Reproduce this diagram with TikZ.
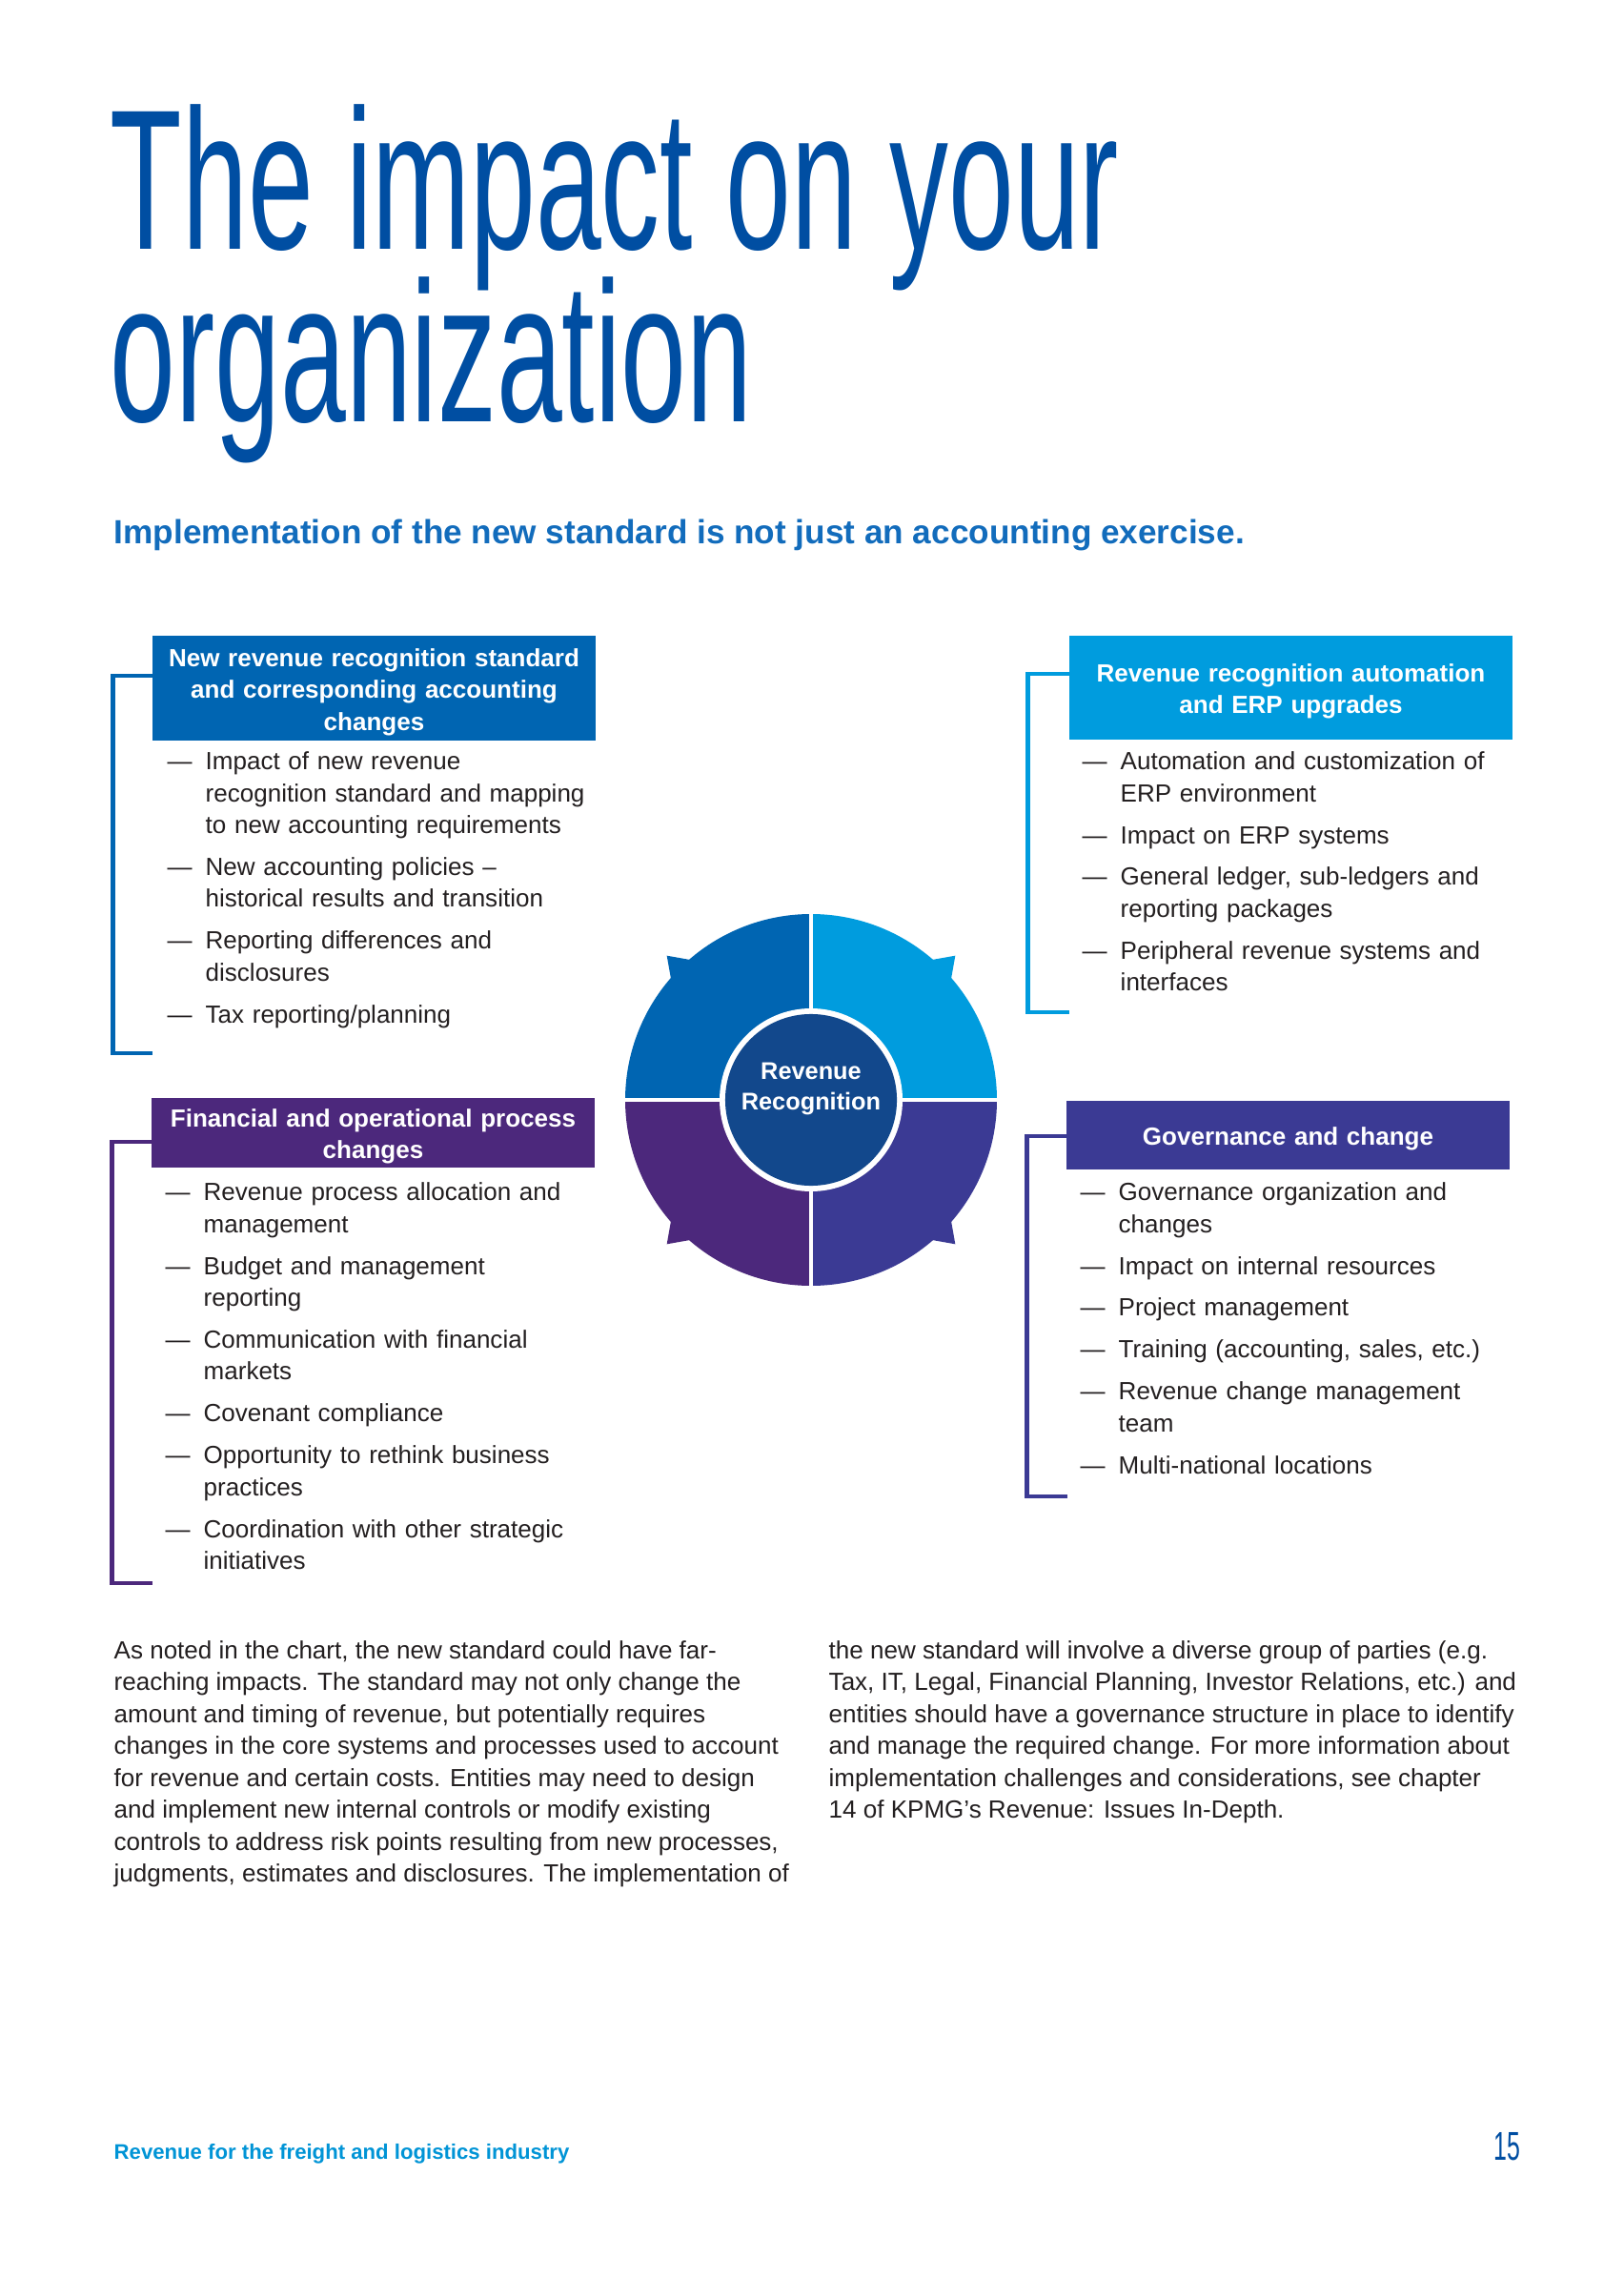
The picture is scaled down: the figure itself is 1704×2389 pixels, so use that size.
\documentclass[tikz,border=0pt]{standalone}
\usepackage{fontspec}
\setmainfont{Liberation Sans}
\newfontfamily\titlefont[FakeStretch=0.59]{Liberation Sans}

\definecolor{kblue}{RGB}{0,101,178}
\definecolor{klight}{RGB}{0,156,222}
\definecolor{kindigo}{RGB}{59,58,148}
\definecolor{kpurple}{RGB}{76,40,124}
\definecolor{kcore}{RGB}{18,72,140}
\definecolor{ktitle}{RGB}{0,78,162}
\definecolor{ksub}{RGB}{18,108,188}
\definecolor{kfoot}{RGB}{0,148,214}
\definecolor{ktext}{RGB}{35,31,32}

\tikzset{
	head/.style={fill=#1, text=white, align=center, inner sep=0pt, minimum width=4.64cm, text width=4.4cm, execute at begin node={\rule{0pt}{7.8pt}}, font=\bfseries\fontsize{7.4}{9.4}\selectfont},
	blist/.style={anchor=north west, inner sep=0pt, text width=5cm, align=left, text=ktext, font=\fontsize{7.4}{9.5}\selectfont\setlength{\parskip}{3pt}},
	brk/.style={draw=#1, line width=1.4pt},
	para/.style={anchor=north west, inner sep=0pt, align=left, text=ktext, font=\fontsize{7.4}{9.5}\selectfont},
}
\newcommand{\itm}{\par\noindent\llap{—\hspace{4pt}}}

\begin{document}
\begin{tikzpicture}[x=0.01cm,y=-0.01cm]
	\fill[white] (0,0) rectangle (1704,2389);
	\useasboundingbox (0,0) rectangle (1704,2389);
%%% Titel
	\node[anchor=base west, inner sep=0pt, text=ktitle, font=\titlefont\fontsize{59.6}{51.5}\selectfont] (t1) at (115,262) {The impact on your};
	\node[anchor=base west, inner sep=0pt, text=ktitle, font=\titlefont\fontsize{59.6}{51.5}\selectfont] (t2) at (115,443) {organization};
	\node[anchor=base west, inner sep=0pt, text=ksub, font=\bfseries\fontsize{10}{12}\selectfont] (sub) at (119,571) {Implementation of the new standard is not just an accounting exercise.};
%%% Kopfkaesten
	\node[head=kblue, minimum height=1.10cm] (h1) at (392.5,722) {New revenue recognition standard\\and corresponding accounting\\changes};
	\node[head=klight, minimum height=1.09cm] (h2) at (1354.5,721.5) {Revenue recognition automation\\and ERP upgrades};
	\node[head=kpurple, minimum height=0.73cm] (h3) at (391.5,1188.5) {Financial and operational process\\changes};
	\node[head=kindigo, minimum height=0.72cm] (h4) at (1351.5,1191) {Governance and change};
%%% Listen
	\node[blist] (l1) at (215,763) {\itm Impact of new revenue\\recognition standard and mapping\\to new accounting requirements
		\itm New accounting policies –\\historical results and transition
		\itm Reporting differences and\\disclosures
		\itm Tax reporting/planning};
	\node[blist] (l2) at (1175,763) {\itm Automation and customization of\\ERP environment
		\itm Impact on ERP systems
		\itm General ledger, sub-ledgers and\\reporting packages
		\itm Peripheral revenue systems and\\interfaces};
	\node[blist] (l3) at (213,1215) {\itm Revenue process allocation and\\management
		\itm Budget and management\\reporting
		\itm Communication with financial\\markets
		\itm Covenant compliance
		\itm Opportunity to rethink business\\practices
		\itm Coordination with other strategic\\initiatives};
	\node[blist] (l4) at (1173,1215) {\itm Governance organization and\\changes
		\itm Impact on internal resources
		\itm Project management
		\itm Training (accounting, sales, etc.)
		\itm Revenue change management\\team
		\itm Multi-national locations};
%%% Klammern
	\coordinate (e1) at (160,1105);
	\coordinate (e2) at (1122,1062);
	\coordinate (e3) at (160,1661);
	\coordinate (e4) at (1120,1570);
	\draw[brk=kblue] (h1.west |- 0,709) -- ++(-41,0) |- (e1);
	\draw[brk=klight] (h2.west |- 0,707) -- ++(-43,0) |- (e2);
	\draw[brk=kpurple] (h3.west |- 0,1198) -- ++(-41,0) |- (e3);
	\draw[brk=kindigo] (h4.west |- 0,1192) -- ++(-41,0) |- (e4);
%%% Kreis in der Mitte
	\begin{scope}[shift={(851,1154)}, yscale=-1]
	\foreach \a/\c in {90/kblue,0/klight,270/kindigo,180/kpurple}{
		\fill[\c] (0,0) -- (\a:195) arc[start angle=\a, end angle=\a+41, radius=195] -- (\a+45:214) -- (\a+49:195) arc[start angle=\a+49, end angle=\a+90, radius=195] -- cycle;
	}
	\draw[white, line width=1.4pt] (-200,0) -- (200,0) (0,-200) -- (0,200);
	\fill[white] (0,0) circle (96);
	\node[circle, fill=kcore, minimum size=1.8cm, inner sep=0pt] (rr) at (0,0) {};
	\node[text=white, align=center, inner sep=0pt, font=\bfseries\fontsize{7.2}{9.1}\selectfont] (rrt) at (0,12) {Revenue\\Recognition};
	\end{scope}
%%% Fliesstext
	\node[para] (p1) at (119,1721) {As noted in the chart, the new standard could have far-\\reaching impacts. The standard may not only change the\\amount and timing of revenue, but potentially requires\\changes in the core systems and processes used to account\\for revenue and certain costs. Entities may need to design\\and implement new internal controls or modify existing\\controls to address risk points resulting from new processes,\\judgments, estimates and disclosures. The implementation of};
	\node[para] (p2) at (869,1721) {the new standard will involve a diverse group of parties (e.g.\\Tax, IT, Legal, Financial Planning, Investor Relations, etc.) and\\entities should have a governance structure in place to identify\\and manage the required change. For more information about\\implementation challenges and considerations, see chapter\\14 of KPMG’s Revenue: Issues In-Depth.};
%%% Fusszeile
	\node[anchor=base west, inner sep=0pt, text=kfoot, font=\bfseries\fontsize{6.3}{7}\selectfont] (foot) at (119,2265) {Revenue for the freight and logistics industry};
	\node[anchor=base east, inner sep=0pt, text=ktitle, font=\titlefont\fontsize{12}{14}\selectfont] (pnum) at (1596,2266) {15};
\end{tikzpicture}
\end{document}
